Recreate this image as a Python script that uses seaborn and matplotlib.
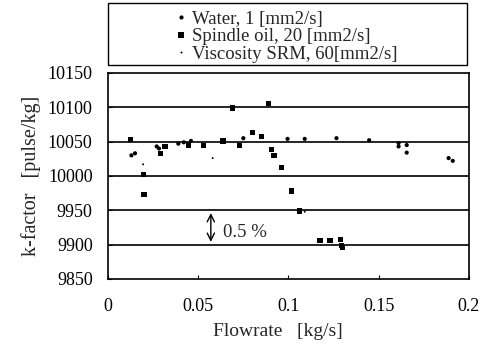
import pandas as pd
import seaborn as sns
import matplotlib.pyplot as plt
from matplotlib.patches import Rectangle

# water, 1 mm2/s
water_x = [0.013, 0.015, 0.027, 0.0283, 0.039, 0.042, 0.046, 0.075, 0.0995, 0.109,
           0.1266, 0.1447, 0.161, 0.161, 0.1655, 0.1655, 0.1887, 0.191]
water_y = [10030, 10033, 10043, 10040, 10047, 10049, 10051, 10055, 10054, 10054,
           10055, 10052, 10048, 10043, 10045, 10034, 10026, 10022]

# spindle oil, 20 mm2/s
oil_x = [0.0127, 0.0197, 0.020, 0.029, 0.0316, 0.0445, 0.053, 0.0637, 0.069, 0.0727,
         0.080, 0.085, 0.089, 0.0906, 0.092, 0.096, 0.1017, 0.106, 0.1175, 0.123,
         0.129, 0.1294, 0.130]
oil_y = [10053, 10002, 9973, 10033, 10043, 10045, 10044, 10051, 10099, 10044,
         10063, 10058, 10105, 10039, 10030, 10012, 9978, 9949, 9906, 9906,
         9907, 9899, 9896]

# viscosity SRM, 60 mm2/s
srm_x = [0.0195, 0.058, 0.109]
srm_y = [10017, 10026, 9948]

labels = ['Water, 1 [mm2/s]', 'Spindle oil, 20 [mm2/s]', 'Viscosity SRM, 60[mm2/s]']

df = pd.concat([
    pd.DataFrame({'flow': water_x, 'k': water_y, 'fluid': labels[0]}),
    pd.DataFrame({'flow': oil_x, 'k': oil_y, 'fluid': labels[1]}),
    pd.DataFrame({'flow': srm_x, 'k': srm_y, 'fluid': labels[2]}),
])

sns.set_theme(style='white')
plt.rcParams['font.family'] = ['Liberation Serif', 'DejaVu Serif']
plt.rcParams['font.size'] = 13

fig = plt.figure(figsize=(4.84, 3.49), dpi=100)
ax = fig.add_axes([0.223, 0.2006, 0.746, 0.5904])

sns.scatterplot(data=df, x='flow', y='k', hue='fluid', style='fluid', size='fluid',
                palette=['black', 'black', 'black'], markers=['o', 's', 'o'],
                sizes={labels[0]: 9, labels[1]: 14, labels[2]: 2},
                edgecolor='none', ax=ax, legend=True)

for yv in [9900, 9950, 10000, 10050, 10100]:
    ax.axhline(yv, color='black', lw=1.2, zorder=0)

ax.set_xlim(0, 0.2)
ax.set_ylim(9850, 10150)
ax.set_xticks([0, 0.05, 0.1, 0.15, 0.2])
ax.set_xticklabels(['0', '0.05', '0.1', '0.15', '0.2'])
ax.set_yticks(range(9850, 10151, 50))
ax.tick_params(axis='both', direction='in', length=3, width=0.8, labelsize=13,
               colors='black', bottom=True, left=True)
ax.tick_params(axis='x', pad=14)
ax.tick_params(axis='y', pad=11)
for sp in ax.spines.values():
    sp.set_color('black')
    sp.set_linewidth(1.2)

ax.set_xlabel('Flowrate   [kg/s]', fontsize=14)
ax.set_ylabel('k-factor   [pulse/kg]', fontsize=14.5)
ax.xaxis.set_label_coords(0.47, -0.215)
ax.yaxis.set_label_coords(-0.185, 0.5)

ax.annotate('', xy=(0.057, 9900), xytext=(0.057, 9950),
            arrowprops=dict(arrowstyle='<->', color='black', lw=1.0))
ax.text(0.064, 9917, '0.5 %', fontsize=13.5, va='center', ha='left')

handles, _ = ax.get_legend_handles_labels()
ax.get_legend().remove()
fig.patches.append(Rectangle((0.223, 0.814), 0.742, 0.177, transform=fig.transFigure,
                             fill=False, edgecolor='black', lw=1.0))
fig.legend(handles, labels, loc='center', bbox_to_anchor=(0.59, 0.895), frameon=False,
           fontsize=13.5, labelspacing=0.02, handletextpad=0.2, handlelength=0.8,
           borderpad=0)

fig.savefig('out.png', dpi=100)
